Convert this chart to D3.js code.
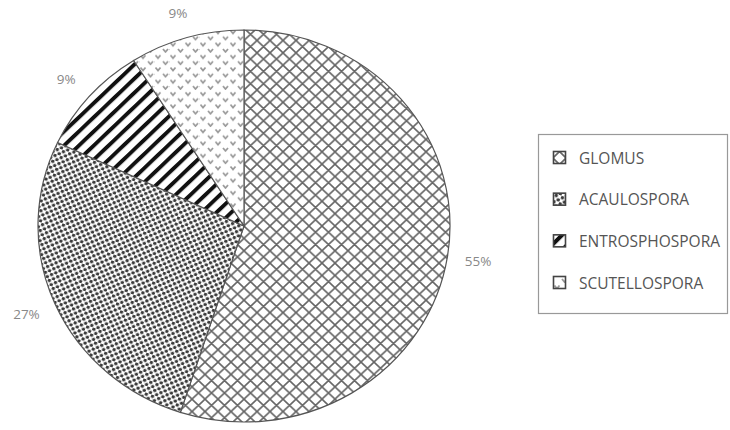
<!DOCTYPE html>
<html><head><meta charset="utf-8">
<script src="https://cdn.jsdelivr.net/npm/d3@7"></script>
<style>body{margin:0;background:#fff}svg{display:block}</style>
</head><body>
<svg id="c" width="730" height="430"></svg>
<script>
const categories = ["GLOMUS","ACAULOSPORA","ENTROSPHOSPORA","SCUTELLOSPORA"];
const values = [55,27,9,9];
const labels = ["55%","27%","9%","9%"];
const patterns = ["hatch","dots","stripes","chev"];

const svg = d3.select("#c");
const defs = svg.append("defs");

// crosshatch
let p = defs.append("pattern").attr("id","hatch").attr("patternUnits","userSpaceOnUse").attr("width",13).attr("height",13);
p.append("rect").attr("width",13).attr("height",13).attr("fill","#fff");
p.append("path").attr("d","M0,0L13,13M-1,12L1,14M12,-1L14,1M0,13L13,0M-1,1L1,-1M12,14L14,12").attr("stroke","#666").attr("stroke-width",1.6);
// dots
p = defs.append("pattern").attr("id","dots").attr("patternUnits","userSpaceOnUse").attr("width",6.6).attr("height",6.6).attr("patternTransform","rotate(20)");
p.append("rect").attr("width",6.6).attr("height",6.6).attr("fill","#fff");
p.append("circle").attr("cx",1.65).attr("cy",1.65).attr("r",1.75).attr("fill","#3a3a3a");
p.append("circle").attr("cx",4.95).attr("cy",4.95).attr("r",1.75).attr("fill","#3a3a3a");
// stripes
p = defs.append("pattern").attr("id","stripes").attr("patternUnits","userSpaceOnUse").attr("width",10.5).attr("height",10.5).attr("patternTransform","rotate(45)");
p.append("rect").attr("width",10.5).attr("height",10.5).attr("fill","#fff");
p.append("rect").attr("x",0).attr("width",4).attr("height",10.5).attr("fill","#111");
// chevrons
p = defs.append("pattern").attr("id","chev").attr("patternUnits","userSpaceOnUse").attr("width",15).attr("height",13);
p.append("rect").attr("width",15).attr("height",13).attr("fill","#fff");
p.append("path").attr("d","M1.5,2.5L4,5.5L6.5,2.5M9,9L11.5,12L14,9").attr("stroke","#999").attr("stroke-width",1.8).attr("fill","none");

const cx = 244, cy = 226, rx = 206, ry = 196;
const pie = d3.pie().sort(null).value(d=>d)(values);
const arc = d3.arc().innerRadius(0).outerRadius(rx);
const g = svg.append("g").attr("transform",`translate(${cx},${cy}) scale(1,${ry/rx})`);
g.selectAll("path").data(pie).join("path")
  .attr("d",arc)
  .attr("fill",(d,i)=>`url(#${patterns[i]})`)
  .attr("stroke","#555").attr("stroke-width",1.2).attr("vector-effect","non-scaling-stroke");

// labels
const lrx = 237, lry = 222;
svg.append("g").selectAll("text").data(pie).join("text")
  .attr("x",d=>{const a=(d.startAngle+d.endAngle)/2;return cx+Math.sin(a)*lrx;})
  .attr("y",d=>{const a=(d.startAngle+d.endAngle)/2;return cy-Math.cos(a)*lry+5;})
  .attr("text-anchor","middle")
  .attr("font-family","'Open Sans', sans-serif").attr("font-size",13.5).attr("fill","#888")
  .text((d,i)=>labels[i]);

// legend
const lg = svg.append("g");
lg.append("rect").attr("x",538.5).attr("y",134.5).attr("width",189).attr("height",179).attr("fill","#fff").attr("stroke","#999").attr("stroke-width",1.2);
const ly = d3.scalePoint().domain(categories).range([158,283]);
const it = lg.selectAll("g").data(categories).join("g").attr("transform",d=>`translate(553,${ly(d)})`);
it.append("rect").attr("x",0.5).attr("y",-6.5).attr("width",12).attr("height",12).attr("fill",(d,i)=>`url(#${patterns[i]})`).attr("stroke","#444").attr("stroke-width",1.6);
it.append("text").attr("x",26).attr("y",5.5).attr("font-family","'Open Sans', sans-serif").attr("font-size",15.5).attr("fill","#555").text(d=>d);
</script>
</body></html>
